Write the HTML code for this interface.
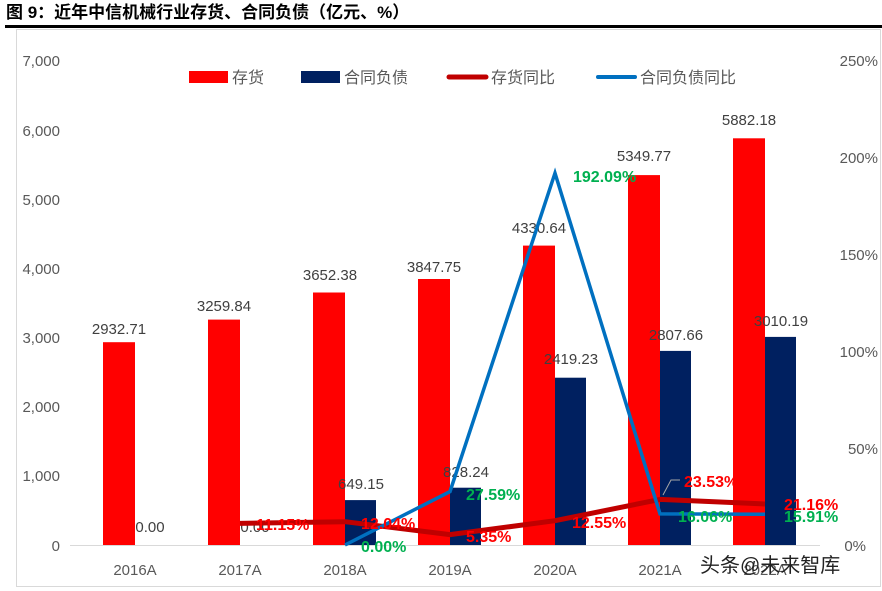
<!DOCTYPE html><html><head><meta charset="utf-8"><style>body{margin:0;background:#fff}svg{display:block}</style></head><body>
<svg width="882" height="591" xmlns="http://www.w3.org/2000/svg" font-family="'Liberation Sans','Noto Sans CJK SC',sans-serif">
<text x="6" y="18" font-size="17" font-weight="bold" fill="#000" font-family="'Liberation Sans','Noto Sans CJK SC',sans-serif">图 9：近年中信机械行业存货、合同负债（亿元、%）</text>
<rect x="5" y="25" width="877" height="3" fill="#000"/>
<rect x="16.5" y="29.5" width="864" height="557" fill="none" stroke="#d9d9d9"/>
<g font-size="15" fill="#595959" text-anchor="end">
<text x="60" y="66">7,000</text><text x="60" y="136">6,000</text><text x="60" y="205">5,000</text><text x="60" y="274">4,000</text><text x="60" y="343">3,000</text><text x="60" y="412">2,000</text><text x="60" y="481">1,000</text><text x="60" y="551">0</text>
</g>
<g font-size="15" fill="#595959" text-anchor="end">
<text x="878" y="66">250%</text><text x="878" y="163">200%</text><text x="878" y="260">150%</text><text x="878" y="357">100%</text><text x="878" y="454">50%</text><text x="866" y="551">0%</text>
</g>
<line x1="70" y1="545.5" x2="820" y2="545.5" stroke="#d9d9d9"/>
<g fill="#ff0000">
<rect x="103" y="342.2" width="32" height="202.8"/>
<rect x="208" y="319.6" width="32" height="225.4"/>
<rect x="313" y="292.5" width="32" height="252.5"/>
<rect x="418" y="279" width="32" height="266"/>
<rect x="523" y="245.6" width="32" height="299.4"/>
<rect x="628" y="175.1" width="32" height="369.9"/>
<rect x="733" y="138.3" width="32" height="406.7"/>
</g>
<g fill="#002060">
<rect x="345" y="500.1" width="31" height="44.9"/>
<rect x="450" y="487.7" width="31" height="57.3"/>
<rect x="555" y="377.7" width="31" height="167.3"/>
<rect x="660" y="350.9" width="31" height="194.1"/>
<rect x="765" y="336.9" width="31" height="208.1"/>
</g>
<g font-size="15" fill="#404040" text-anchor="middle">
<text x="119" y="334">2932.71</text><text x="224" y="311">3259.84</text><text x="330" y="280">3652.38</text><text x="434" y="272">3847.75</text><text x="539" y="233">4330.64</text><text x="644" y="161">5349.77</text><text x="749" y="125">5882.18</text>
<text x="150" y="532">0.00</text><text x="255" y="532">0.00</text><text x="361" y="489">649.15</text><text x="466" y="477">828.24</text><text x="571" y="364">2419.23</text><text x="676" y="340">2807.66</text><text x="781" y="326">3010.19</text>
</g>
<polyline points="240,523.4 345,521.7 450,534.6 555,520.7 660,499.4 765,504" fill="none" stroke="#c00000" stroke-width="5" stroke-linejoin="round"/>
<polyline points="345,545 450,491.6 555,173.1 660,513.9 765,514.2" fill="none" stroke="#0070c0" stroke-width="3.5" stroke-linejoin="miter"/>
<polyline points="663,495 671,480 680,480" fill="none" stroke="#a6a6a6"/>
<g font-size="16" font-weight="bold">
<text x="256" y="530" fill="#ff0000">11.15%</text>
<text x="361" y="529" fill="#ff0000">12.04%</text>
<text x="466" y="542" fill="#ff0000">5.35%</text>
<text x="572" y="528" fill="#ff0000">12.55%</text>
<text x="684" y="487" fill="#ff0000">23.53%</text>
<text x="784" y="510" fill="#ff0000">21.16%</text>
<text x="361" y="552" fill="#00b050">0.00%</text>
<text x="466" y="500" fill="#00b050">27.59%</text>
<text x="573" y="182" fill="#00b050">192.09%</text>
<text x="678" y="522" fill="#00b050">16.06%</text>
<text x="784" y="522" fill="#00b050">15.91%</text>
</g>
<g font-size="15" fill="#595959" text-anchor="middle">
<text x="135" y="575">2016A</text><text x="240" y="575">2017A</text><text x="345" y="575">2018A</text><text x="450" y="575">2019A</text><text x="555" y="575">2020A</text><text x="660" y="575">2021A</text><text x="765" y="575">2022A</text>
</g>
<text x="700" y="572" font-size="20" fill="#222">头条@未来智库</text>
<rect x="189" y="71" width="39" height="12" fill="#ff0000"/>
<text x="232" y="83" font-size="16" fill="#595959">存货</text>
<rect x="301" y="71" width="39" height="12" fill="#002060"/>
<text x="344" y="83" font-size="16" fill="#595959">合同负债</text>
<line x1="449" y1="77" x2="486" y2="77" stroke="#c00000" stroke-width="5" stroke-linecap="round"/>
<text x="491" y="83" font-size="16" fill="#595959">存货同比</text>
<line x1="598" y1="77" x2="635" y2="77" stroke="#0070c0" stroke-width="4" stroke-linecap="round"/>
<text x="640" y="83" font-size="16" fill="#595959">合同负债同比</text>
</svg>
</body></html>
